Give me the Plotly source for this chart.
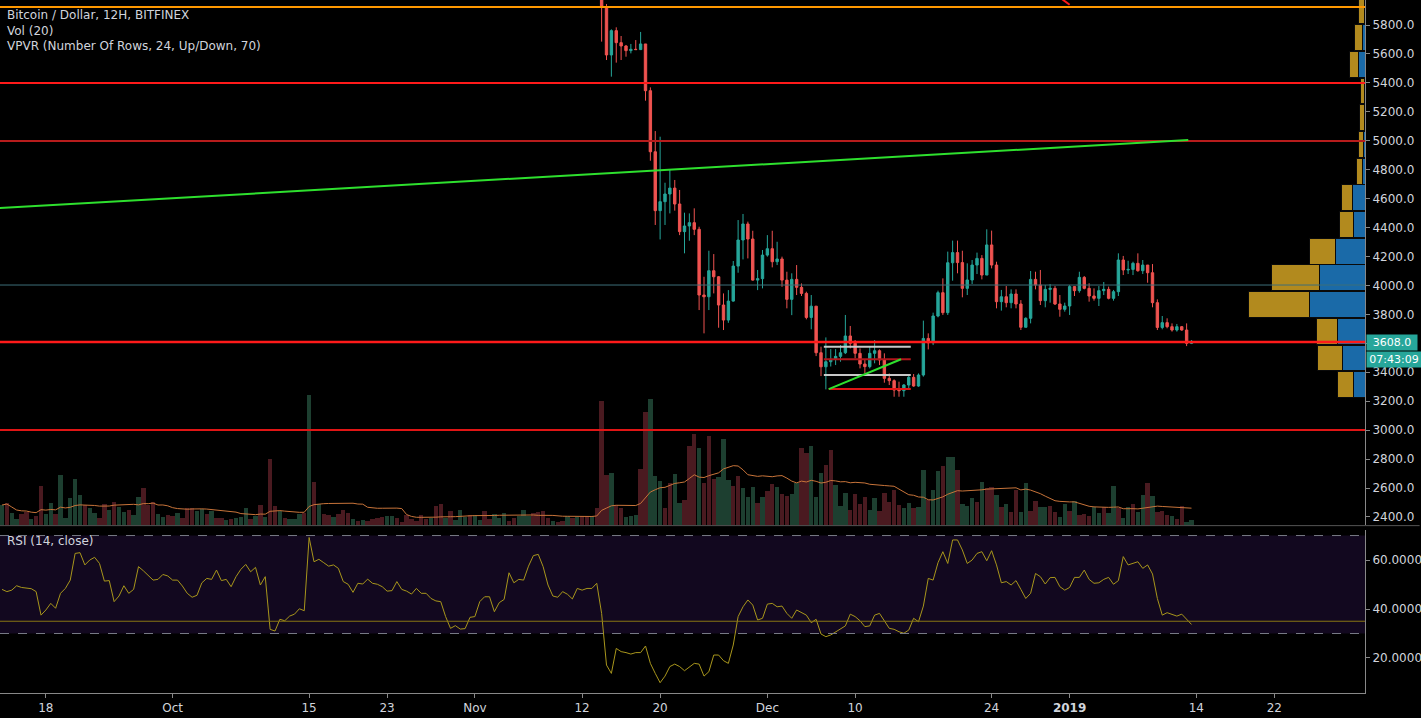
import pandas as pd
import plotly.graph_objects as go

# 12H bars, first bar Sep 13 2018 12:00
start = "2018-09-13 12:00"

volume = [20, 22, 12, 6, 11, 13, 6, 9, 39, 11, 22, 11, 50, 7, 27, 46, 30, 20, 17, 12,
          7, 21, 15, 23, 18, 13, 15, 10, 28, 37, 20, 23, 11, 8, 10, 9, 12, 7, 17, 17,
          14, 16, 11, 14, 7, 7, 5, 6, 7, 8, 17, 6, 9, 20, 8, 66, 19, 14, 7, 6,
          6, 11, 12, 130, 43, 21, 11, 10, 8, 11,
          15, 12, 6, 4, 5, 4, 6, 7, 8, 9, 9, 7, 3, 10, 6, 4, 10, 6, 7, 19,
          21, 7, 14, 5, 15, 8, 10, 10, 5, 14, 6, 11, 7, 12, 4, 7, 9, 15, 9, 12,
          13, 14, 7, 4, 3, 4, 9, 7, 8, 9, 9, 9,
          17, 124, 50, 52, 20, 17, 8, 9, 10, 56, 113, 126, 49, 44, 17, 42, 51, 22, 25, 79,
          91, 77, 42, 89, 46, 48, 86, 45, 39, 49, 37, 28, 38, 22, 28, 34, 41, 38, 31, 29,
          31, 42, 77, 72, 79, 28, 52, 60, 75, 40,
          19, 32, 15, 31, 21, 28, 15, 27, 14, 32, 23, 35, 20, 17, 22, 17, 18, 55, 25, 35,
          54, 59, 68, 68, 55, 21, 19, 27, 23, 43, 37, 38, 30, 18, 21, 13, 35, 13, 42, 14,
          24, 18, 18, 19, 13, 8, 21, 14, 24, 10, 11, 9, 18, 12, 18, 12, 39, 17, 7, 18,
          21, 13, 30, 42, 29, 13, 14, 10, 9, 6, 19, 3, 5]
volume_dir = ("grggrrgrrg" "grgggggrgg" "rrgrggrggr" "rrggrrgrrr" "ggrgrrgrgg" "grgrgrrgrg" "ggrgrgrrgr"
              "rrgrgrrrrg" "grrrrrrrgr" "rgrgggrggr" "rgggrrgggr" "rrrgrrgrgr" "rg"
              "rrrgrrgggr" "rgggrrggrr" "rgrrrgggrr" "gggrgrrgrr" "ggrrgggrrg"
              "ggrrrrggrr" "rrrggrggrg" "grggrgggrg" "rrgrgrrggr" "rggrrggrgr" "rrggrggrgg" "rggrgrrrgr" "rgg")

rsi = [48.0, 47.1, 47.7, 49.5, 48.8, 48.4, 48.3, 47.1, 37.5, 39.6,
       42.3, 40.3, 46.4, 48.4, 51.8, 62.7, 63.0, 58.0, 60.0, 61.1,
       58.6, 51.4, 51.6, 43.0, 45.3, 49.5, 46.4, 48.0, 57.3, 55.6,
       53.9, 51.8, 52.1, 54.1, 53.5, 51.8, 51.8, 49.4, 46.4, 44.8,
       45.6, 50.7, 52.5, 52.1, 55.9, 51.6, 52.1, 49.1, 53.2, 56.2,
       58.2, 55.2, 57.0, 49.8, 53.2, 31.7, 31.0, 35.8, 35.2, 37.1,
       37.9, 40.1, 39.3, 69.2, 59.3, 60.3, 58.9, 57.5, 58.0, 56.6,
       51.2, 50.1, 46.8, 50.5, 50.2, 52.2, 50.5, 50.1, 49.1, 47.3,
       47.5, 51.2, 48.0, 47.3, 46.1, 48.4, 46.4, 46.4, 44.3, 43.3,
       43.0, 36.9, 32.1, 33.2, 31.8, 32.0, 36.6, 36.9, 43.0, 45.0,
       45.0, 38.9, 42.6, 43.9, 54.8, 50.7, 52.1, 51.8, 57.5, 61.8,
       62.3, 57.3, 49.8, 45.3, 44.8, 47.1, 46.0, 44.1, 48.4, 47.7,
       48.4, 48.4, 50.5,
       38.2, 17.1, 13.7, 23.9, 22.6, 22.2, 21.6, 22.2, 22.2, 24.9,
       17.8, 13.7, 9.9, 12.6, 16.5, 17.5, 16.5, 14.8, 16.2, 17.8,
       17.5, 12.6, 14.4, 21.2, 21.2, 18.9, 17.8, 25.3, 36.9, 40.9,
       43.7, 41.6, 35.5, 36.2, 42.0, 42.3, 40.9, 41.2, 38.2, 36.2,
       39.6, 38.5, 37.5, 34.4, 35.8, 29.8, 28.7, 29.4, 30.7, 31.7,
       33.1, 37.9, 36.9, 35.2, 32.8, 33.1, 37.5, 38.2, 35.2, 32.1,
       31.7, 30.7, 30.1, 31.4, 36.2, 34.8, 41.2, 52.5, 51.8, 58.9,
       63.4, 58.6, 68.2, 68.2, 64.1, 58.6, 60.0, 62.7, 63.4, 59.7,
       63.8, 58.0, 50.7, 51.2, 49.8, 51.6, 48.0, 44.3, 46.4, 54.5,
       53.2, 50.2, 52.8, 52.9, 49.1, 47.7, 48.8, 52.9, 52.9, 55.9,
       52.1, 50.5, 50.7, 52.1, 52.9, 50.1, 51.6, 61.4, 58.0, 58.6,
       59.3, 56.6, 58.0, 54.3, 44.3, 37.5, 38.5, 37.8, 37.1, 37.9,
       35.8, 33.7]

# candles visible from bar 123 (Nov 14) onwards
candle_first = 123
first_open = 6350
close = [5927, 5593, 5761, 5678, 5655, 5623, 5632, 5630, 5669, 5346,
         4924, 4517, 4579, 4632, 4673, 4563, 4372, 4411, 4434, 4388,
         3934, 3922, 4102, 4060, 3865, 3761, 3892, 4134, 4314, 4425,
         4321, 4037, 4047, 4210, 4254, 4164, 4183, 4037, 3904, 4042,
         3987, 3945, 3779, 3857, 3535, 3438, 3473, 3490, 3510,
         3535, 3651, 3600, 3531, 3457, 3439, 3531, 3549, 3485, 3358,
         3342, 3277, 3273, 3312, 3365, 3305, 3381, 3634, 3604, 3789,
         3950, 3812, 4157, 4227, 4158, 3980, 4038, 4141, 4187, 4072,
         4280, 4141, 3888, 3922, 3881, 3941, 3872, 3711, 3773, 4042,
         4003, 3895, 3973, 3980, 3872, 3835, 3858, 3992, 3964, 4056,
         3980, 3927, 3911, 3964, 3973, 3911, 3957, 4176, 4107, 4111,
         4153, 4102, 4141, 4088, 3881, 3710, 3743, 3715, 3692, 3715,
         3692, 3600, 3614]
high = [6400, 5945, 5770, 5784, 5724, 5662, 5669, 5696, 5752, 5669,
        5369, 5067, 5028, 4710, 4798, 4729, 4660, 4503, 4498, 4533,
        4406, 4060, 4240, 4217, 4065, 3945, 3968, 4169, 4452, 4494,
        4441, 4378, 4107, 4245, 4348, 4378, 4302, 4199, 4095, 4084,
        4141, 4014, 3957, 3934, 3858, 3577, 3641, 3560, 3560,
        3588, 3796, 3720, 3623, 3565, 3485, 3577, 3623, 3558, 3531,
        3392, 3351, 3335, 3319, 3381, 3388, 3392, 3757, 3669, 3812,
        3964, 4049, 4234, 4310, 4310, 4240, 4153, 4176, 4227, 4210,
        4388, 4379, 4164, 3969, 3996, 3973, 3973, 3899, 3780, 4100,
        4095, 4107, 4003, 4010, 3996, 3934, 3881, 4003, 3996, 4095,
        4065, 4015, 3980, 3996, 4024, 3992, 3969, 4222, 4204, 4171,
        4164, 4222, 4176, 4141, 4148, 3904, 3789, 3773, 3738, 3734,
        3720, 3738, 3623]
low = [5685, 5558, 5443, 5540, 5558, 5581, 5604, 5627, 5627, 5277,
       4862, 4418, 4318, 4418, 4498, 4517, 4348, 4222, 4309, 4348,
       3830, 3669, 3830, 3945, 3708, 3692, 3742, 3888, 4088, 4180,
       4187, 4033, 3968, 3980, 4199, 4125, 4141, 3991, 3842, 3795,
       3934, 3927, 3766, 3697, 3512, 3374, 3282, 3440, 3450,
       3473, 3526, 3565, 3496, 3427, 3392, 3427, 3462, 3450, 3328,
       3312, 3231, 3231, 3231, 3282, 3300, 3300, 3370, 3558, 3588,
       3780, 3796, 3796, 4033, 4084, 3918, 3934, 4010, 4079, 4042,
       4072, 4118, 3842, 3826, 3849, 3842, 3842, 3692, 3711, 3738,
       3973, 3865, 3849, 3881, 3865, 3784, 3819, 3796, 3927, 3950,
       3973, 3888, 3895, 3858, 3934, 3904, 3895, 3927, 4072, 4079,
       4072, 4095, 4079, 4019, 3849, 3692, 3697, 3704, 3681, 3681,
       3687, 3581, 3595]

# volume profile (24 rows, 184.5 wide, visible rows from 3222 upwards)
vpvr_bottom = 3222
vpvr_row = 184.5
vpvr_up = [11.7, 22.3, 27.3, 56, 46, 29.3, 11.7, 12.3, 2.3, 2, 1, 0.7, 6.3, 2.3, 1]
vpvr_down = [16, 25, 21.7, 60.7, 48, 26.7, 14.3, 11, 6, 4.7, 4.3, 3.6, 9, 8, 6]

levels = [5924, 5399, 4998, 4003, 3609, 3001]
level_colors = ["#ff9800", "#ff1a1a", "#b71c1c", "#3d6e78", "#ff1a1a", "#e01515"]
level_widths = [2, 2, 2, 1, 2.5, 2]

times = pd.date_range(start, periods=len(volume), freq="12h")
ctimes = times[candle_first:candle_first + len(close)]
opens = [first_open] + close[:-1]
high = [max(h, o, c) for h, o, c in zip(high, opens, close)]
low = [min(l, o, c) for l, o, c in zip(low, opens, close)]

fig = go.Figure()

vcol = ["#1d3f30" if d == "g" else "#4a1a20" for d in volume_dir[:len(volume)]]
fig.add_trace(go.Bar(x=times, y=volume, marker=dict(color=vcol, line_width=0),
                     yaxis="y3", xaxis="x"))
vma = pd.Series(volume).rolling(20, min_periods=1).mean()
fig.add_trace(go.Scatter(x=times, y=vma, mode="lines", line=dict(color="#c8743a", width=1),
                         yaxis="y3", xaxis="x"))

rows = [vpvr_bottom + vpvr_row * (k + 0.5) for k in range(len(vpvr_up))]
fig.add_trace(go.Bar(y=rows, x=vpvr_up, orientation="h", width=vpvr_row - 6,
                     marker=dict(color="#1a6aa8", line=dict(color="#0a0a0a", width=1)),
                     xaxis="x2", yaxis="y"))
fig.add_trace(go.Bar(y=rows, x=vpvr_down, orientation="h", width=vpvr_row - 6,
                     marker=dict(color="#b28a1e", line=dict(color="#0a0a0a", width=1)),
                     xaxis="x2", yaxis="y"))

fig.add_trace(go.Candlestick(x=ctimes, open=opens, high=high, low=low, close=close,
                             increasing=dict(line=dict(color="#26a69a", width=1), fillcolor="#26a69a"),
                             decreasing=dict(line=dict(color="#ef5350", width=1), fillcolor="#ef5350"),
                             whiskerwidth=0, xaxis="x", yaxis="y"))

fig.add_trace(go.Scatter(x=times[:len(rsi)], y=rsi, mode="lines",
                         line=dict(color="#a8961c", width=1), xaxis="x", yaxis="y2"))

shapes = []
for lv, c, w in zip(levels, level_colors, level_widths):
    shapes.append(dict(type="line", xref="paper", yref="y", x0=0, x1=1, y0=lv, y1=lv,
                       line=dict(color=c, width=w)))
# trend line and drawings
shapes.append(dict(type="line", xref="x", yref="y", x0="2018-09-13 07:00", y0=4535,
                   x1="2019-01-13 04:00", y1=5005, line=dict(color="#2ee02e", width=2)))
shapes.append(dict(type="line", xref="x", yref="y", x0="2018-12-31 00:00", y0=5990,
                   x1="2019-01-01 00:00", y1=5940, line=dict(color="#ff1a1a", width=2)))
for yv, c in [(3577, "#c8c8c8"), (3381, "#c8c8c8"), (3490, "#b0161b")]:
    shapes.append(dict(type="line", xref="x", yref="y", x0="2018-12-06 19:00", x1="2018-12-15 17:00",
                       y0=yv, y1=yv, line=dict(color=c, width=2)))
shapes.append(dict(type="line", xref="x", yref="y", x0="2018-12-07 07:00", x1="2018-12-15 17:00",
                   y0=3284, y1=3284, line=dict(color="#e01515", width=2)))
shapes.append(dict(type="line", xref="x", yref="y", x0="2018-12-07 07:00", x1="2018-12-14 17:00",
                   y0=3284, y1=3490, line=dict(color="#2ee02e", width=2)))
# RSI band
shapes.append(dict(type="rect", xref="paper", yref="y2", x0=0, x1=1, y0=30, y1=70,
                   fillcolor="#12081f", line_width=0, layer="below"))
for yv in (70, 30):
    shapes.append(dict(type="line", xref="paper", yref="y2", x0=0, x1=1, y0=yv, y1=yv,
                       line=dict(color="#787b86", width=1, dash="dash")))
shapes.append(dict(type="line", xref="paper", yref="y2", x0=0, x1=1, y0=35, y1=35,
                   line=dict(color="#8a7714", width=1)))
shapes.append(dict(type="line", xref="paper", yref="paper", x0=0, x1=1.04, y0=0.2415, y1=0.2415,
                   line=dict(color="#555555", width=1)))

txt = dict(family="DejaVu Sans", size=12, color="#d1d4dc")
tag = dict(family="DejaVu Sans", size=11, color="white")
annotations = [
    dict(xref="paper", yref="paper", x=0.004, y=1, yanchor="top", xanchor="left", showarrow=False,
         text="Bitcoin / Dollar, 12H, BITFINEX<br>Vol (20)<br>VPVR (Number Of Rows, 24, Up/Down, 70)",
         align="left", font=txt, yshift=-6),
    dict(xref="paper", yref="paper", x=0.004, y=0.232, yanchor="top", xanchor="left", showarrow=False,
         text="RSI (14, close)", font=txt),
    dict(xref="paper", yref="y", x=1, y=3608, xanchor="left", showarrow=False, text="3608.0",
         bgcolor="#26a69a", font=tag, xshift=1, width=48),
    dict(xref="paper", yref="y", x=1, y=3608, xanchor="left", showarrow=False, text="07:43:09",
         bgcolor="#26a69a", font=tag, xshift=1, yshift=-17, width=52),
]

tickvals = ["2018-09-18", "2018-10-01", "2018-10-15", "2018-10-23", "2018-11-01", "2018-11-12",
            "2018-11-20", "2018-12-01", "2018-12-10", "2018-12-24", "2019-01-01", "2019-01-14", "2019-01-22"]
ticktext = ["18", "Oct", "15", "23", "Nov", "12", "20", "Dec", "10", "24", "<b>2019</b>", "14", "22"]

fig.update_layout(
    width=1421, height=718, paper_bgcolor="#000000", plot_bgcolor="#000000",
    margin=dict(l=0, r=56, t=0, b=25), showlegend=False, barmode="stack", bargap=0.1,
    font=txt, shapes=shapes, annotations=annotations,
    xaxis=dict(type="date", range=["2018-09-13 07:05", "2019-01-31 07:05"], rangeslider=dict(visible=False),
               tickvals=tickvals, ticktext=ticktext, showgrid=False, zeroline=False,
               showline=True, linecolor="#888888", ticks="outside", tickcolor="#888888", ticklen=4,
               tickfont=txt, anchor="y2"),
    xaxis2=dict(overlaying="x", range=[1365, 0], visible=False, anchor="y"),
    yaxis=dict(domain=[0.2424, 1], range=[2344.5, 5972.8], side="right", tickvals=list(range(2400, 5801, 200)),
               tickformat=".1f", showgrid=False, zeroline=False, showline=True, linecolor="#888888",
               ticks="outside", tickcolor="#888888", ticklen=4, tickfont=txt),
    yaxis2=dict(domain=[0, 0.235], range=[5.7, 72.2], side="right", tickvals=[20, 40, 60],
                tickformat=".4f", showgrid=False, zeroline=False, showline=True, linecolor="#888888",
                ticks="outside", tickcolor="#888888", ticklen=4, tickfont=txt, anchor="x"),
    yaxis3=dict(overlaying="y", range=[0, 525], visible=False),
)

fig.write_html("out.html", config={"displayModeBar": False},
               post_script="document.body.style.margin='0';")
